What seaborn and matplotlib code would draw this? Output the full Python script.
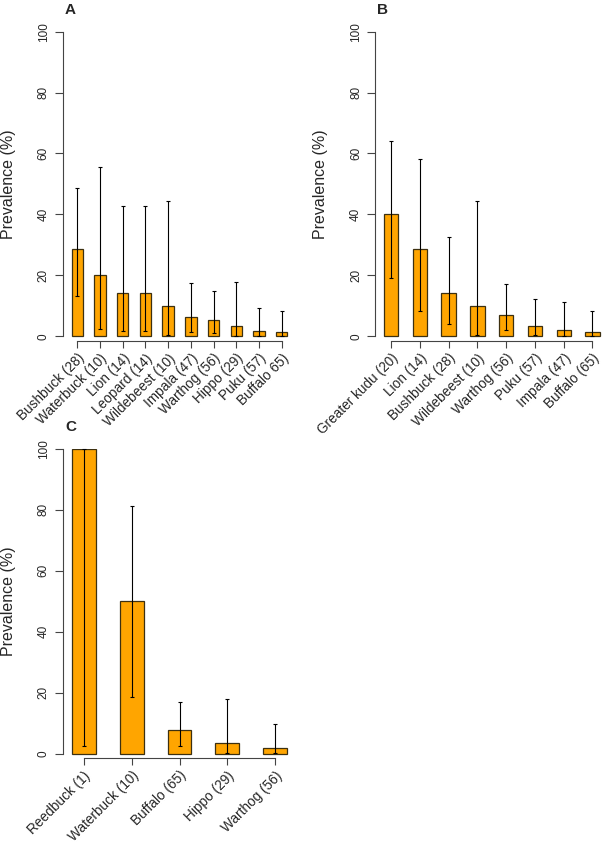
import numpy as np
import pandas as pd
import matplotlib
matplotlib.use("Agg")
import matplotlib.pyplot as plt
import seaborn as sns

# Panel A
cats_a = ["Bushbuck (28)", "Waterbuck (10)", "Lion (14)", "Leopard (14)", "Wildebeest (10)",
          "Impala (47)", "Warthog (56)", "Hippo (29)", "Puku (57)", "Buffalo 65)"]
prev_a = [28.6, 20.0, 14.3, 14.3, 10.0, 6.4, 5.4, 3.4, 1.8, 1.5]
low_a = [13.2, 2.5, 1.8, 1.8, 0.3, 1.3, 1.1, 0.1, 0.04, 0.04]
up_a = [48.7, 55.6, 42.8, 42.8, 44.5, 17.5, 14.9, 17.8, 9.4, 8.3]

# Panel B
cats_b = ["Greater kudu (20)", "Lion (14)", "Bushbuck (28)", "Wildebeest (10)",
          "Warthog (56)", "Puku (57)", "Impala (47)", "Buffalo (65)"]
prev_b = [40.0, 28.6, 14.3, 10.0, 7.1, 3.5, 2.1, 1.5]
low_b = [19.1, 8.4, 4.0, 0.3, 2.0, 0.4, 0.05, 0.04]
up_b = [64.0, 58.1, 32.7, 44.5, 17.3, 12.1, 11.3, 8.3]

# Panel C
cats_c = ["Reedbuck (1)", "Waterbuck (10)", "Buffalo (65)", "Hippo (29)", "Warthog (56)"]
prev_c = [100.0, 50.0, 7.7, 3.4, 1.8]
low_c = [2.5, 18.7, 2.5, 0.1, 0.05]
up_c = [100.0, 81.3, 17.0, 17.8, 9.6]

sns.set_style("ticks")
plt.rcParams["font.family"] = ["Liberation Sans", "DejaVu Sans"]

W, H = 602, 846
fig = plt.figure(figsize=(W / 100, H / 100), dpi=100)


def panel(left_px, top_px, cats, prev, low, up, letter, ylab_px):
    n = len(cats)
    pad = 0.25 + 0.02 * (2 * n - 1)
    pitch = 233.0 / (n - 1 + 2 * pad)
    ymin = -1.5
    height_px = 304.5 * (100 - ymin) / 100
    ax = fig.add_axes([left_px / W, 1 - (top_px + height_px) / H,
                       (n - 1 + 2 * pad) * pitch / W, height_px / H])
    df = pd.DataFrame({"species": cats, "prev": prev})
    sns.barplot(data=df, x="species", y="prev", color="#FFA500", saturation=1,
                width=0.5, edgecolor="#3d3010", linewidth=0.9, ax=ax)
    pos = np.arange(n)
    p = np.array(prev)
    ax.errorbar(pos, p, yerr=[p - np.array(low), np.array(up) - p], fmt="none",
                ecolor="black", elinewidth=0.8, capsize=1.3, capthick=0.8, clip_on=False)
    ax.set_xlim(-pad, n - 1 + pad)
    ax.set_ylim(ymin, 100)
    ax.set_yticks([0, 20, 40, 60, 80, 100])
    for s in ["top", "right"]:
        ax.spines[s].set_visible(False)
    ax.spines["left"].set_bounds(0, 100)
    ax.spines["bottom"].set_bounds(0, n - 1)
    for s in ["left", "bottom"]:
        ax.spines[s].set_color("#444444")
        ax.spines[s].set_linewidth(0.8)
    ax.tick_params(axis="y", length=5.5, width=0.8, color="#444444", labelsize=8.5,
                   labelrotation=90, pad=4)
    for t in ax.get_yticklabels():
        t.set_va("center")
    ax.tick_params(axis="x", length=5, width=0.8, color="#444444", labelsize=9.8, pad=2.5)
    ax.set_xticks(pos)
    ax.set_xticklabels(cats, rotation=45, ha="right", rotation_mode="anchor")
    ax.set_xlabel("")
    ax.set_ylabel("Prevalence (%)", fontsize=11.5)
    ax.yaxis.set_label_coords((ylab_px - left_px) / 233.0, (50 - ymin) / (100 - ymin))
    fig.text((left_px + 2) / W, 1 - (top_px - 22) / H, letter, fontsize=11,
             fontweight="bold", va="center", ha="left")
    return ax


panel(63, 31.7, cats_a, prev_a, low_a, up_a, "A", 16)
panel(375.3, 31.7, cats_b, prev_b, low_b, up_b, "B", 328)
panel(63, 449, cats_c, prev_c, low_c, up_c, "C", 16)

fig.savefig("out.png", dpi=100)
